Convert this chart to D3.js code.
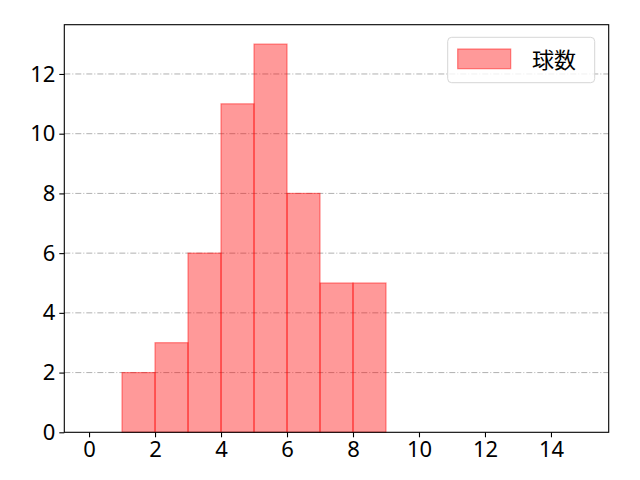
<!DOCTYPE html>
<html lang="ja">
<head>
<meta charset="UTF-8">
<title>球数</title>
<style>
  body{margin:0;background:#fff;}
  text{font-family:"Noto Sans CJK JP","Noto Sans",sans-serif;}
</style>
</head>
<body>
<svg width="640" height="480"></svg>
<script src="https://cdn.jsdelivr.net/npm/d3@7"></script>
<script>
  // 度数分布 (ビン幅 1)
  var binEdges = [0,1,2,3,4,5,6,7,8,9,10,11,12,13,14,15];
  var counts = [0,2,3,6,11,13,8,5,5,0,0,0,0,0,0];
  var xTicks = [0,2,4,6,8,10,12,14];
  var yTicks = [0,2,4,6,8,10,12];
  var seriesName = '球数';

  var svg = d3.select('svg');
  var pl = 64.3, pr = 608.7, pt = 24.7, pb = 432.3;

  var x = d3.scaleLinear().domain([-0.75, 15.75]).range([pl, pr]);
  var y = d3.scaleLinear().domain([0, 13.65]).range([pb, pt]);

  //格子線
  svg.append('g').selectAll('line').data(yTicks.filter(function(d){return d > 0;})).enter()
    .append('line')
    .attr('x1', pl).attr('x2', pr)
    .attr('y1', function(d){return y(d);}).attr('y2', function(d){return y(d);})
    .attr('stroke', '#b0b0b0').attr('stroke-width', 1)
    .attr('stroke-dasharray', '6,2,1,2');

  //棒
  var bins = counts.map(function(c, i){ return {x0: binEdges[i], x1: binEdges[i+1], n: c}; });
  svg.append('g').selectAll('rect').data(bins).enter()
    .append('rect')
    .attr('x', function(d){return x(d.x0);})
    .attr('width', function(d){return x(d.x1) - x(d.x0);})
    .attr('y', function(d){return y(d.n);})
    .attr('height', function(d){return y(0) - y(d.n);})
    .attr('fill', 'red').attr('fill-opacity', 0.4)
    .attr('stroke', 'red').attr('stroke-opacity', 0.45).attr('stroke-width', 1.2);

  //軸
  var xAxis = d3.axisBottom(x).tickValues(xTicks).tickSize(5).tickPadding(4).tickFormat(d3.format('d'));
  var yAxis = d3.axisLeft(y).tickValues(yTicks).tickSize(5).tickPadding(4).tickFormat(d3.format('d'));
  var gx = svg.append('g').attr('transform', 'translate(0,' + pb + ')').call(xAxis);
  var gy = svg.append('g').attr('transform', 'translate(' + pl + ',0)').call(yAxis);
  [gx, gy].forEach(function(g){
    g.select('.domain').remove();
    g.selectAll('line').attr('stroke', '#000').attr('stroke-width', 1.1);
    g.selectAll('text').attr('font-size', 22).attr('fill', '#000')
      .style('font-family', '"Noto Sans","Noto Sans CJK JP",sans-serif');
  });

  //枠
  svg.append('rect').attr('x', pl).attr('y', pt)
    .attr('width', pr - pl).attr('height', pb - pt)
    .attr('fill', 'none').attr('stroke', '#000').attr('stroke-width', 1.1);

  //凡例
  var lg = svg.append('g');
  lg.append('rect').attr('x', 447.7).attr('y', 37.3).attr('width', 147).attr('height', 45.4)
    .attr('rx', 4).attr('fill', '#fff').attr('fill-opacity', 0.8)
    .attr('stroke', '#d6d6d6').attr('stroke-width', 1);
  lg.append('rect').attr('x', 457.7).attr('y', 49).attr('width', 53).attr('height', 19.7)
    .attr('fill', 'red').attr('fill-opacity', 0.4)
    .attr('stroke', 'red').attr('stroke-opacity', 0.45).attr('stroke-width', 1.2);
  lg.append('text').attr('x', 532).attr('y', 60).attr('dy', '0.35em')
    .attr('font-size', 22).attr('fill', '#000').text(seriesName);
</script>
</body>
</html>
